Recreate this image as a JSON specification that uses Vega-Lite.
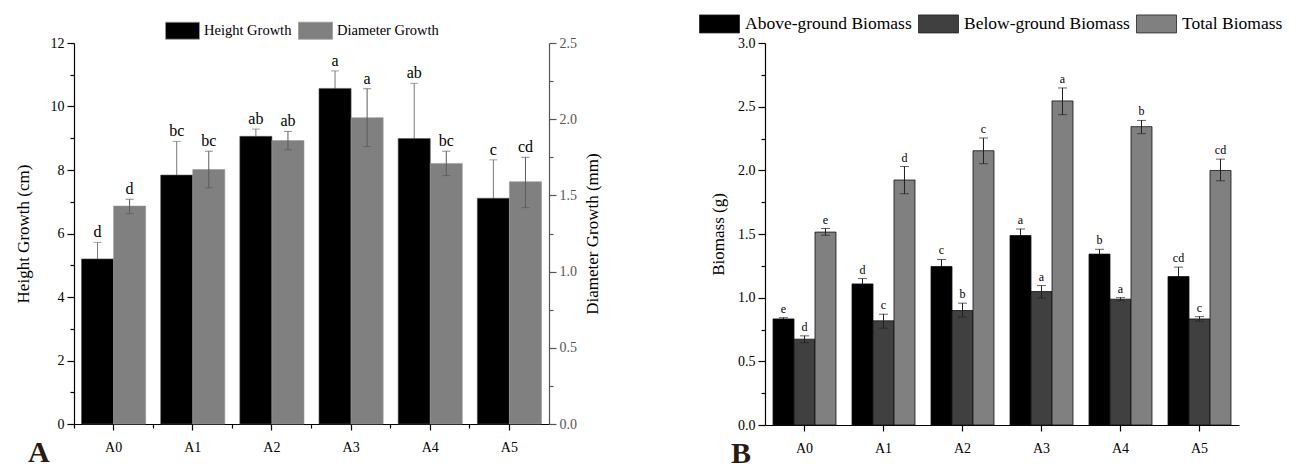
{
  "$schema": "https://vega.github.io/schema/vega-lite/v6.json",
  "background": "white",
  "padding": {"left": 14, "top": 3, "right": 5, "bottom": 0},
  "spacing": 98,
  "resolve": {"scale": {"color": "independent", "xOffset": "independent", "x": "independent", "y": "independent"}, "legend": {"color": "independent"}},
  "datasets": {
    "growth": [
      {"g": "A0", "s": "Height Growth", "v": 5.20, "lo": 4.68, "hi": 5.72, "lab": "d"},
      {"g": "A1", "s": "Height Growth", "v": 7.84, "lo": 6.78, "hi": 8.90, "lab": "bc"},
      {"g": "A2", "s": "Height Growth", "v": 9.06, "lo": 8.83, "hi": 9.29, "lab": "ab"},
      {"g": "A3", "s": "Height Growth", "v": 10.57, "lo": 10.02, "hi": 11.12, "lab": "a"},
      {"g": "A4", "s": "Height Growth", "v": 8.99, "lo": 7.25, "hi": 10.73, "lab": "ab"},
      {"g": "A5", "s": "Height Growth", "v": 7.11, "lo": 5.90, "hi": 8.32, "lab": "c"},
      {"g": "A0", "s": "Diameter Growth", "v": 1.43, "lo": 1.38, "hi": 1.475, "lab": "d"},
      {"g": "A1", "s": "Diameter Growth", "v": 1.67, "lo": 1.55, "hi": 1.79, "lab": "bc"},
      {"g": "A2", "s": "Diameter Growth", "v": 1.86, "lo": 1.80, "hi": 1.92, "lab": "ab"},
      {"g": "A3", "s": "Diameter Growth", "v": 2.01, "lo": 1.82, "hi": 2.20, "lab": "a"},
      {"g": "A4", "s": "Diameter Growth", "v": 1.71, "lo": 1.63, "hi": 1.79, "lab": "bc"},
      {"g": "A5", "s": "Diameter Growth", "v": 1.59, "lo": 1.42, "hi": 1.75, "lab": "cd"}
    ],
    "biomass": [
      {"g": "A0", "s": "Above-ground Biomass", "v": 0.833, "lo": 0.823, "hi": 0.843, "lab": "e"},
      {"g": "A1", "s": "Above-ground Biomass", "v": 1.108, "lo": 1.066, "hi": 1.15, "lab": "d"},
      {"g": "A2", "s": "Above-ground Biomass", "v": 1.245, "lo": 1.19, "hi": 1.30, "lab": "c"},
      {"g": "A3", "s": "Above-ground Biomass", "v": 1.488, "lo": 1.44, "hi": 1.54, "lab": "a"},
      {"g": "A4", "s": "Above-ground Biomass", "v": 1.342, "lo": 1.30, "hi": 1.38, "lab": "b"},
      {"g": "A5", "s": "Above-ground Biomass", "v": 1.166, "lo": 1.09, "hi": 1.24, "lab": "cd"},
      {"g": "A0", "s": "Below-ground Biomass", "v": 0.674, "lo": 0.647, "hi": 0.70, "lab": "d"},
      {"g": "A1", "s": "Below-ground Biomass", "v": 0.818, "lo": 0.76, "hi": 0.87, "lab": "c"},
      {"g": "A2", "s": "Below-ground Biomass", "v": 0.899, "lo": 0.847, "hi": 0.957, "lab": "b"},
      {"g": "A3", "s": "Below-ground Biomass", "v": 1.048, "lo": 0.996, "hi": 1.095, "lab": "a"},
      {"g": "A4", "s": "Below-ground Biomass", "v": 0.988, "lo": 0.976, "hi": 1.0, "lab": "a"},
      {"g": "A5", "s": "Below-ground Biomass", "v": 0.833, "lo": 0.815, "hi": 0.851, "lab": "c"},
      {"g": "A0", "s": "Total Biomass", "v": 1.515, "lo": 1.49, "hi": 1.543, "lab": "e"},
      {"g": "A1", "s": "Total Biomass", "v": 1.924, "lo": 1.816, "hi": 2.03, "lab": "d"},
      {"g": "A2", "s": "Total Biomass", "v": 2.154, "lo": 2.052, "hi": 2.254, "lab": "c"},
      {"g": "A3", "s": "Total Biomass", "v": 2.545, "lo": 2.437, "hi": 2.647, "lab": "a"},
      {"g": "A4", "s": "Total Biomass", "v": 2.343, "lo": 2.288, "hi": 2.392, "lab": "b"},
      {"g": "A5", "s": "Total Biomass", "v": 1.999, "lo": 1.918, "hi": 2.088, "lab": "cd"}
    ]
  },
  "hconcat": [
    {
      "width": 475,
      "height": 381,
      "data": {"name": "growth"},
      "title": {"text": "A", "orient": "bottom", "anchor": "start", "frame": "group", "dx": -46, "offset": -16, "fontSize": 30, "fontWeight": "bold", "color": "#2a1a10", "font": "Liberation Serif"},
      "encoding": {
        "x": {"field": "g", "type": "nominal", "scale": {"paddingInner": 0, "paddingOuter": 0}},
        "xOffset": {"field": "s", "type": "nominal", "scale": {"domain": ["Height Growth", "Diameter Growth"], "paddingInner": 0, "paddingOuter": 0.234}}
      },
      "layer": [
        {
          "transform": [{"filter": "datum.s === 'Height Growth'"}],
          "encoding": {
            "x": {"field": "g", "type": "nominal", "axis": {"title": null, "labelAngle": 0, "tickSize": 6, "labelPadding": 10, "labelFontSize": 14, "bandPosition": 0.5}},
            "y": {"field": "v", "type": "quantitative", "scale": {"domain": [0, 12], "nice": false, "zero": true},
              "axis": {"title": "Height Growth (cm)", "values": [0, 1, 2, 3, 4, 5, 6, 7, 8, 9, 10, 11, 12], "labelExpr": "datum.value % 2 === 0 ? datum.label : ''", "tickSize": {"condition": {"test": "datum.value % 2 === 0", "value": 7}, "value": 4}, "labelPadding": 3, "titlePadding": 18, "labelFontSize": 14, "titleFontSize": 17}}
          },
          "layer": [
            {"mark": {"type": "rule", "color": "#777777", "strokeWidth": 1}, "encoding": {"y": {"field": "lo", "type": "quantitative"}, "y2": {"field": "hi"}}},
            {"mark": {"type": "tick", "color": "#777777", "thickness": 1, "size": 8}, "encoding": {"y": {"field": "hi", "type": "quantitative"}}},
            {"mark": {"type": "bar", "stroke": "#555555", "strokeWidth": 0.6},
              "encoding": {"color": {"field": "s", "type": "nominal", "scale": {"domain": ["Height Growth", "Diameter Growth"], "range": ["#000000", "#808080"]},
                "legend": {"orient": "none", "legendX": 91, "legendY": -30, "direction": "horizontal", "title": null, "symbolType": "M-1,-0.5H1V0.5H-1Z", "symbolSize": 1156, "symbolStrokeColor": "#777777", "symbolStrokeWidth": 0.8, "labelFontSize": 14.5, "labelLimit": 300, "labelFont": "Liberation Serif", "labelColor": "#000", "labelOffset": 4, "columnPadding": 4}}}},
            {"mark": {"type": "text", "baseline": "bottom", "dy": -2, "fontSize": 16, "font": "Liberation Serif", "color": "#000"}, "encoding": {"y": {"field": "hi", "type": "quantitative"}, "text": {"field": "lab"}}}
          ]
        },
        {
          "transform": [{"filter": "datum.s === 'Diameter Growth'"}],
          "encoding": {
            "x": {"field": "g", "type": "nominal", "axis": {"orient": "bottom", "title": null, "labels": false, "domain": false, "tickSize": 4, "bandPosition": 0}},
            "y": {"field": "v", "type": "quantitative", "scale": {"domain": [0, 2.5], "nice": false, "zero": true},
              "axis": {"orient": "right", "title": "Diameter Growth (mm)", "titleAngle": -90, "titleBaseline": "top", "values": [0, 0.25, 0.5, 0.75, 1, 1.25, 1.5, 1.75, 2, 2.25, 2.5], "format": ".1f", "labelExpr": "(datum.value * 2) % 1 === 0 ? datum.label : ''", "tickSize": {"condition": {"test": "(datum.value * 2) % 1 === 0", "value": 7}, "value": 4}, "labelPadding": 3, "titlePadding": 8, "labelColor": "#555555", "domainColor": "#555555", "tickColor": "#555555", "labelFontSize": 14, "titleFontSize": 17}}
          },
          "layer": [
            {"mark": {"type": "bar", "stroke": "#999999", "strokeWidth": 0.6}, "encoding": {"color": {"field": "s", "type": "nominal"}}},
            {"mark": {"type": "rule", "color": "#5a5a5a", "strokeWidth": 1}, "encoding": {"y": {"field": "lo", "type": "quantitative"}, "y2": {"field": "hi"}}},
            {"mark": {"type": "tick", "color": "#5a5a5a", "thickness": 1, "size": 8}, "encoding": {"y": {"field": "hi", "type": "quantitative"}}},
            {"mark": {"type": "tick", "color": "#5a5a5a", "thickness": 1, "size": 8}, "encoding": {"y": {"field": "lo", "type": "quantitative"}}},
            {"mark": {"type": "text", "baseline": "bottom", "dy": -2, "fontSize": 16, "font": "Liberation Serif", "color": "#000"}, "encoding": {"y": {"field": "hi", "type": "quantitative"}, "text": {"field": "lab"}}}
          ]
        }
      ],
      "resolve": {"scale": {"y": "independent"}, "axis": {"x": "independent"}}
    },
    {
      "width": 474,
      "height": 382,
      "data": {"name": "biomass"},
      "title": {"text": "B", "orient": "bottom", "anchor": "start", "frame": "group", "dx": -34, "offset": -16, "fontSize": 30, "fontWeight": "bold", "color": "#2a1a10", "font": "Liberation Serif"},
      "encoding": {
        "x": {"field": "g", "type": "nominal", "scale": {"paddingInner": 0, "paddingOuter": 0}, "axis": {"title": null, "labelAngle": 0, "tickSize": 6, "labelPadding": 10, "labelFontSize": 14, "bandPosition": 0.5}},
        "xOffset": {"field": "s", "type": "nominal", "scale": {"domain": ["Above-ground Biomass", "Below-ground Biomass", "Total Biomass"], "paddingInner": 0, "paddingOuter": 0.381}},
        "y": {"field": "v", "type": "quantitative", "scale": {"domain": [0, 3], "nice": false},
          "axis": {"title": "Biomass (g)", "values": [0, 0.25, 0.5, 0.75, 1, 1.25, 1.5, 1.75, 2, 2.25, 2.5, 2.75, 3], "format": ".1f", "labelExpr": "(datum.value * 2) % 1 === 0 ? datum.label : ''", "tickSize": {"condition": {"test": "(datum.value * 2) % 1 === 0", "value": 7}, "value": 4}, "labelPadding": 3, "titlePadding": 10, "labelFontSize": 14, "titleFontSize": 17}}
      },
      "layer": [
        {"mark": {"type": "rule", "color": "#222222", "strokeWidth": 1}, "encoding": {"y": {"field": "lo", "type": "quantitative"}, "y2": {"field": "hi"}}},
        {"mark": {"type": "bar", "stroke": "#111111", "strokeWidth": 0.8},
          "encoding": {"color": {"field": "s", "type": "nominal", "scale": {"domain": ["Above-ground Biomass", "Below-ground Biomass", "Total Biomass"], "range": ["#000000", "#404040", "#808080"]},
            "legend": {"orient": "none", "legendX": -66, "legendY": -40, "direction": "horizontal", "title": null, "symbolType": "M-1,-0.45H1V0.45H-1Z", "symbolSize": 1600, "symbolStrokeColor": "#222222", "symbolStrokeWidth": 0.8, "labelFontSize": 17.5, "labelLimit": 400, "labelFont": "Liberation Serif", "labelColor": "#000", "labelOffset": 5, "columnPadding": 4}}}},
        {"transform": [{"filter": "datum.s !== 'Above-ground Biomass'"}], "mark": {"type": "rule", "color": "#222222", "strokeWidth": 1}, "encoding": {"y": {"field": "lo", "type": "quantitative"}, "y2": {"field": "hi"}}},
        {"mark": {"type": "tick", "color": "#222222", "thickness": 1, "size": 9}, "encoding": {"y": {"field": "hi", "type": "quantitative"}}},
        {"transform": [{"filter": "datum.s !== 'Above-ground Biomass'"}], "mark": {"type": "tick", "color": "#222222", "thickness": 1, "size": 9}, "encoding": {"y": {"field": "lo", "type": "quantitative"}}},
        {"mark": {"type": "text", "baseline": "bottom", "dy": -2, "fontSize": 12, "font": "Liberation Serif", "color": "#000"}, "encoding": {"y": {"field": "hi", "type": "quantitative"}, "text": {"field": "lab"}}}
      ]
    }
  ],
  "config": {
    "font": "Liberation Serif",
    "view": {"stroke": null},
    "axis": {"labelFont": "Liberation Serif", "titleFont": "Liberation Serif", "labelColor": "#000", "titleColor": "#000", "domainColor": "#000", "tickColor": "#000", "titleFontWeight": "normal", "grid": false, "domainWidth": 1.2, "tickWidth": 1.2},
    "legend": {"labelFont": "Liberation Serif"},
    "title": {"font": "Liberation Serif"}
  }
}
